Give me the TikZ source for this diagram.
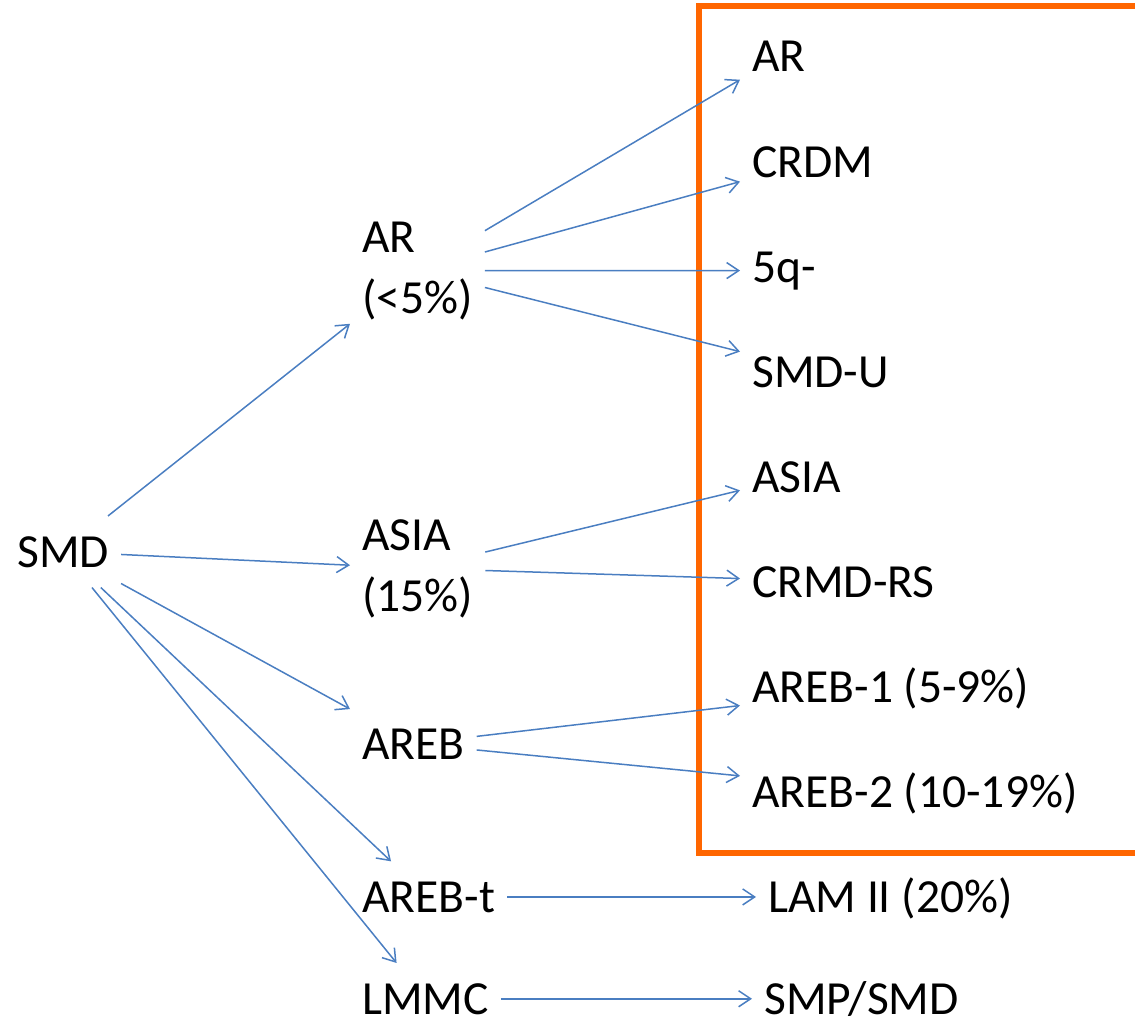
\documentclass[tikz,border=0pt]{standalone}
\usepackage{fontspec}
\setmainfont{Carlito}
\usetikzlibrary{positioning, arrows.meta}
\definecolor{linkblue}{RGB}{74,126,193}
\definecolor{frameorange}{RGB}{255,102,0}
\newcommand{\diagfont}{\fontsize{47.5pt}{61pt}\selectfont}
\begin{document}
\begin{tikzpicture}[
  x=1pt, y=-1pt,
  node distance=105pt,
  item/.style={inner xsep=12pt, inner ysep=20pt, font=\diagfont, anchor=base west},
  group/.style={item, align=left},
  link/.style={draw=linkblue, line width=1.5pt, -{Straight Barb[length=12pt, width=16pt]}},
  frame/.style={draw=frameorange, line width=6pt}
  ]
  \useasboundingbox (0,0) rectangle (1135,1025);

  % Frame round the subtypes
  \draw[frame] (699,6) rectangle (1150,853);

  % Nodes
  \node (smd) [item] at (5,567) {SMD};
  \node (ar) [group] at (350,313) {AR\\(<5\%)};
  \node (asia) [group] at (350,611) {ASIA\\(15\%)};
  \node (areb) [item] at (350,759) {AREB};
  \node (arebt) [item] at (350,912) {AREB-t};
  \node (lmmc) [item] at (350,1014) {LMMC};

  \node (ar1) [item] at (740,72) {AR};
  \node (crdm) [item, below=of ar1.base west, anchor=base west] {CRDM};
  \node (fiveq) [item, below=of crdm.base west, anchor=base west] {5q-};
  \node (smdu) [item, below=of fiveq.base west, anchor=base west] {SMD-U};
  \node (asia1) [item, below=of smdu.base west, anchor=base west] {ASIA};
  \node (crmdrs) [item, below=of asia1.base west, anchor=base west] {CRMD-RS};
  \node (areb1) [item, below=of crmdrs.base west, anchor=base west] {AREB-1 (5-9\%)};
  \node (areb2) [item, below=of areb1.base west, anchor=base west] {AREB-2 (10-19\%)};
  \node (lam) [item] at (756,912) {LAM II (20\%)};
  \node (smpsmd) [item] at (752,1014) {SMP/SMD};

  % Connections
  \draw[link] (smd) -- (ar);
  \draw[link] (smd) -- (asia);
  \draw[link] (smd) -- (areb);
  \draw[link] (smd) -- (arebt);
  \draw[link] (smd) -- (lmmc);
  \draw[link] (ar) -- (ar1);
  \draw[link] (ar) -- (crdm);
  \draw[link] (ar) -- (fiveq);
  \draw[link] (ar) -- (smdu);
  \draw[link] (asia) -- (asia1);
  \draw[link] (asia) -- (crmdrs);
  \draw[link] (areb) -- (areb1);
  \draw[link] (areb) -- (areb2);
  \draw[link] (arebt) -- (arebt -| lam.west);
  \draw[link] (lmmc) -- (lmmc -| smpsmd.west);

\end{tikzpicture}
\end{document}
